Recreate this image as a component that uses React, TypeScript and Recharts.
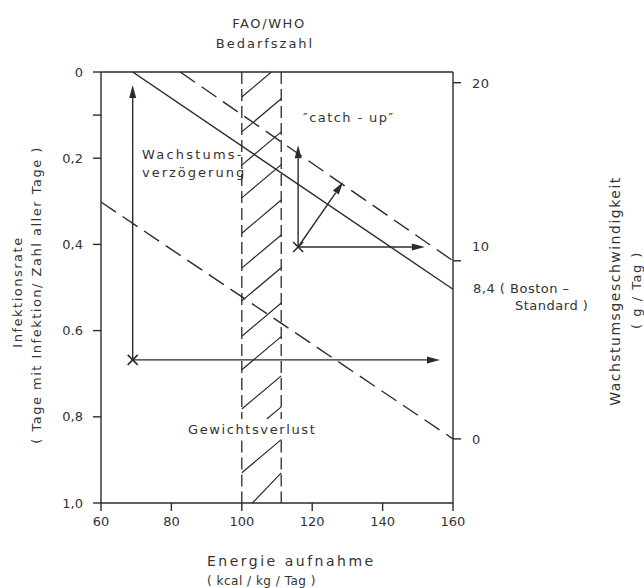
import { ComposedChart, Line, XAxis, YAxis, ReferenceLine, ReferenceDot } from 'recharts';

// axis ticks
const energyTicks = [60, 80, 100, 120, 140, 160];
const infectionTicks = [0, 0.1, 0.2, 0.4, 0.6, 0.8, 1.0];
const infectionLabels = ['0', '', '0,2', '0,4', '0.6', '0,8', '1,0'];
const growthTicks = [0, 8.4, 10, 20];

// growth velocity lines (x = kcal/kg/Tag, g = g/Tag)
const bostonLine = [{ x: 69, g: 20.6 }, { x: 160, g: 8.4 }];
const catchUpLine = [{ x: 82.5, g: 20.6 }, { x: 160, g: 10 }];
const lossLine = [{ x: 60, g: 13.3 }, { x: 160, g: 0 }];

// FAO/WHO requirement band and its hatching (infection-rate units)
const bandEdges = [100, 111.2];
const bandParts = [[0, 0.805], [0.855, 1.0]];
const hatch = [
  { x1: 100, y1: 0.058, x2: 108.4, y2: 0 },
  { x1: 100, y1: 0.139, x2: 111.2, y2: 0.062 },
  { x1: 100, y1: 0.216, x2: 111.2, y2: 0.139 },
  { x1: 100, y1: 0.292, x2: 111.2, y2: 0.215 },
  { x1: 100, y1: 0.374, x2: 111.2, y2: 0.297 },
  { x1: 100, y1: 0.455, x2: 111.2, y2: 0.378 },
  { x1: 100, y1: 0.531, x2: 111.2, y2: 0.454 },
  { x1: 100, y1: 0.613, x2: 111.2, y2: 0.536 },
  { x1: 100, y1: 0.691, x2: 111.2, y2: 0.614 },
  { x1: 100, y1: 0.782, x2: 111.2, y2: 0.705 },
  { x1: 107.1, y1: 0.805, x2: 111.2, y2: 0.777 },
  { x1: 100, y1: 0.93, x2: 111.2, y2: 0.853 },
  { x1: 103, y1: 1.0, x2: 111.2, y2: 0.93 },
];

// the two children, marked with an x, and their arrows
const markers = [{ x: 69, y: 0.668 }, { x: 116, y: 0.406 }];
const arrows = [
  { x1: 69, y1: 0.668, x2: 69, y2: 0.03 },
  { x1: 69, y1: 0.668, x2: 156.3, y2: 0.668 },
  { x1: 116, y1: 0.406, x2: 116, y2: 0.17 },
  { x1: 116, y1: 0.406, x2: 152, y2: 0.406 },
  { x1: 116, y1: 0.406, x2: 128.8, y2: 0.255 },
];

const INK = '#2b2b2b';
const FONT = '"DejaVu Sans", sans-serif';

const Arrow = (props: any) => {
  const { x1, y1, x2, y2 } = props;
  const a = Math.atan2(y2 - y1, x2 - x1);
  const len = 13;
  const half = 3.5;
  const bx = x2 - len * Math.cos(a);
  const by = y2 - len * Math.sin(a);
  const px = -Math.sin(a) * half;
  const py = Math.cos(a) * half;
  return (
    <g>
      <line x1={x1} y1={y1} x2={bx} y2={by} stroke={INK} strokeWidth={1.4} />
      <polygon points={`${x2},${y2} ${bx + px},${by + py} ${bx - px},${by - py}`} fill={INK} />
    </g>
  );
};

const Cross = (props: any) => {
  const { cx, cy } = props;
  const s = 5;
  return (
    <g stroke={INK} strokeWidth={1.6}>
      <line x1={cx - s} y1={cy - s} x2={cx + s} y2={cy + s} />
      <line x1={cx - s} y1={cy + s} x2={cx + s} y2={cy - s} />
    </g>
  );
};

const GrowthTick = (props: any) => {
  const { x, y, payload } = props;
  const v = payload.value;
  const axisX = x - 19;
  const style = { fontFamily: FONT, fontSize: 13, fill: '#333', letterSpacing: 0.5 };
  if (v === 8.4) {
    return (
      <text x={x + 1} y={y + 4} style={style}>
        <tspan x={x + 1}>8,4 ( Boston –</tspan>
        <tspan x={x + 43} dy={17}>Standard )</tspan>
      </text>
    );
  }
  return (
    <g>
      <line x1={axisX} x2={axisX + 8} y1={y} y2={y} stroke={INK} strokeWidth={1.4} />
      <text x={x} y={v === 10 ? y - 10 : y + 5} style={style}>{v}</text>
    </g>
  );
};

const txt = { fontFamily: FONT, fontSize: 13, fill: '#333', letterSpacing: 1 };

const App = () => {
  return (
    <div style={{ position: 'absolute', left: 0, top: 0, width: 644, height: 588, background: '#fff' }}>
      <ComposedChart width={644} height={588} margin={{ top: 72, right: 0, left: 0, bottom: 0 }}>
        <XAxis
          type="number"
          dataKey="x"
          domain={[60, 160]}
          ticks={energyTicks}
          allowDataOverflow
          height={85}
          stroke={INK}
          strokeWidth={1.4}
          tickSize={8}
          tickMargin={6}
          tick={{ fill: '#333', fontSize: 13, fontFamily: FONT }}
        />
        <YAxis
          yAxisId="inf"
          orientation="left"
          type="number"
          domain={[0, 1]}
          reversed
          allowDataOverflow
          ticks={infectionTicks}
          tickFormatter={(v: number) => infectionLabels[infectionTicks.indexOf(v)]}
          width={101}
          stroke={INK}
          strokeWidth={1.4}
          tickSize={8}
          tickMargin={10}
          tick={{ fill: '#333', fontSize: 13, fontFamily: FONT }}
        />
        <YAxis
          yAxisId="g"
          orientation="right"
          type="number"
          domain={[-3.6, 20.6]}
          allowDataOverflow
          ticks={growthTicks}
          width={191}
          stroke={INK}
          strokeWidth={1.4}
          tickLine={false}
          tickSize={8}
          tickMargin={11}
          tick={<GrowthTick />}
        />
        <ReferenceLine yAxisId="inf" y={0} stroke={INK} strokeWidth={1.4} />
        {bandEdges.map((bx) =>
          bandParts.map((p, i) => (
            <ReferenceLine
              key={`band-${bx}-${i}`}
              yAxisId="inf"
              segment={[{ x: bx, y: p[0] }, { x: bx, y: p[1] }]}
              stroke={INK}
              strokeWidth={1.3}
              strokeDasharray="12 5"
              ifOverflow="visible"
            />
          ))
        )}
        {hatch.map((h, i) => (
          <ReferenceLine
            key={`hatch-${i}`}
            yAxisId="inf"
            segment={[{ x: h.x1, y: h.y1 }, { x: h.x2, y: h.y2 }]}
            stroke={INK}
            strokeWidth={1.2}
            ifOverflow="visible"
          />
        ))}
        <Line data={bostonLine} dataKey="g" yAxisId="g" type="linear" stroke={INK} strokeWidth={1.4} dot={false} isAnimationActive={false} />
        <Line data={catchUpLine} dataKey="g" yAxisId="g" type="linear" stroke={INK} strokeWidth={1.4} strokeDasharray="18 8" dot={false} isAnimationActive={false} />
        <Line data={lossLine} dataKey="g" yAxisId="g" type="linear" stroke={INK} strokeWidth={1.4} strokeDasharray="18 8" dot={false} isAnimationActive={false} />
        {arrows.map((a, i) => (
          <ReferenceLine
            key={`arrow-${i}`}
            yAxisId="inf"
            segment={[{ x: a.x1, y: a.y1 }, { x: a.x2, y: a.y2 }]}
            shape={<Arrow />}
            ifOverflow="visible"
          />
        ))}
        {markers.map((m, i) => (
          <ReferenceDot key={`mark-${i}`} yAxisId="inf" x={m.x} y={m.y} shape={<Cross />} ifOverflow="visible" />
        ))}

        <text x={269} y={28} textAnchor="middle" style={{ ...txt, letterSpacing: 1.6 }}>FAO/WHO</text>
        <text x={265} y={48} textAnchor="middle" style={{ ...txt, letterSpacing: 2 }}>Bedarfszahl</text>
        <text x={142} y={159} style={{ ...txt, letterSpacing: 2.2 }}>Wachstums-</text>
        <text x={142} y={177} style={{ ...txt, letterSpacing: 2 }}>verzögerung</text>
        <text x={303} y={122} style={{ ...txt, letterSpacing: 1.4 }}>″catch - up″</text>
        <text x={188} y={434} style={{ ...txt, letterSpacing: 1.6 }}>Gewichtsverlust</text>
        <text x={207} y={566} style={{ ...txt, fontSize: 14, letterSpacing: 2.5 }}>Energie aufnahme</text>
        <text x={207} y={585} style={{ ...txt, fontSize: 12, letterSpacing: 0.5 }}>( kcal / kg / Tag )</text>
        <text x={17} y={292} textAnchor="middle" dominantBaseline="central" transform="rotate(-90 17 292)" style={{ ...txt, letterSpacing: 1.5 }}>Infektionsrate</text>
        <text x={36} y={295} textAnchor="middle" dominantBaseline="central" transform="rotate(-90 36 295)" style={{ ...txt, letterSpacing: 1.5 }}>( Tage mit Infektion/ Zahl aller Tage )</text>
        <text x={615} y={291} textAnchor="middle" dominantBaseline="central" transform="rotate(-90 615 291)" style={{ ...txt, fontSize: 14, letterSpacing: 1.5 }}>Wachstumsgeschwindigkeit</text>
        <text x={636} y={290} textAnchor="middle" dominantBaseline="central" transform="rotate(-90 636 290)" style={{ ...txt, letterSpacing: 1.5 }}>( g / Tag )</text>
      </ComposedChart>
    </div>
  );
};

export default App;
